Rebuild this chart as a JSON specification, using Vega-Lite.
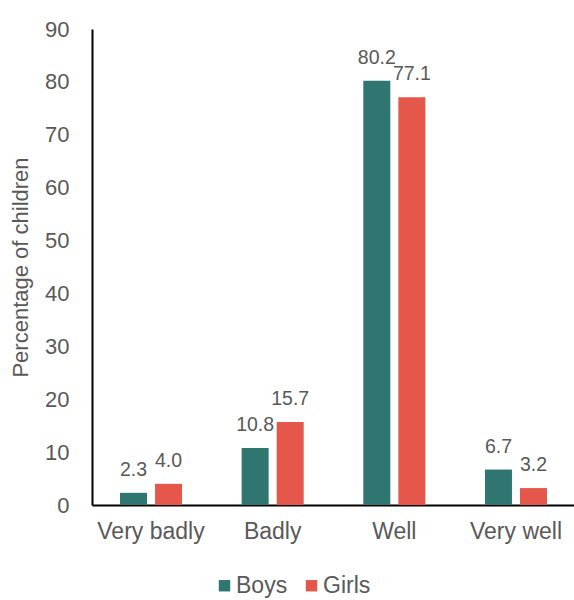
{
  "$schema": "https://vega.github.io/schema/vega-lite/v6.json",
  "width": 483,
  "height": 476,
  "autosize": {"type": "none"},
  "padding": {"left": 92, "top": 29, "right": 0, "bottom": 95},
  "config": {"view": {"stroke": null}, "font": "Liberation Sans"},
  "data": {
    "values": [
      {"rating": "Very badly", "sex": "Boys", "pct": 2.3},
      {"rating": "Very badly", "sex": "Girls", "pct": 4.0},
      {"rating": "Badly", "sex": "Boys", "pct": 10.8},
      {"rating": "Badly", "sex": "Girls", "pct": 15.7},
      {"rating": "Well", "sex": "Boys", "pct": 80.2},
      {"rating": "Well", "sex": "Girls", "pct": 77.1},
      {"rating": "Very well", "sex": "Boys", "pct": 6.7},
      {"rating": "Very well", "sex": "Girls", "pct": 3.2}
    ]
  },
  "encoding": {
    "x": {
      "field": "rating", "type": "nominal",
      "sort": ["Very badly", "Badly", "Well", "Very well"],
      "scale": {"paddingInner": 0.49, "paddingOuter": 0.23},
      "axis": {"title": null, "labelAngle": 0, "ticks": false, "domainColor": "#000000", "domainWidth": 2, "labelFontSize": 23, "labelColor": "#595959", "labelPadding": 15}
    },
    "xOffset": {"field": "sex", "type": "nominal", "scale": {"paddingInner": 0.23, "paddingOuter": 0}},
    "y": {
      "field": "pct", "type": "quantitative",
      "scale": {"domain": [0, 90]},
      "axis": {"title": "Percentage of children", "titleFontSize": 22, "titleFontWeight": "normal", "titleColor": "#595959", "titlePadding": 12, "values": [0, 10, 20, 30, 40, 50, 60, 70, 80, 90], "labelOverlap": false, "grid": false, "ticks": false, "domainColor": "#000000", "domainWidth": 2, "labelFontSize": 22, "labelColor": "#595959", "labelPadding": 23}
    }
  },
  "layer": [
    {
      "mark": {"type": "bar"},
      "encoding": {
        "color": {
          "field": "sex", "type": "nominal",
          "scale": {"domain": ["Boys", "Girls"], "range": ["#2E766F", "#E5574A"]},
          "legend": {"title": null, "orient": "none", "direction": "horizontal", "legendX": 121, "legendY": 545, "symbolType": "square", "symbolSize": 130, "symbolStrokeWidth": 0, "labelFontSize": 23, "labelColor": "#595959", "columnPadding": 12, "labelOffset": 0}
        }
      }
    },
    {
      "mark": {"type": "text", "baseline": "alphabetic", "dy": -17, "fontSize": 19.5, "color": "#595959"},
      "encoding": {
        "text": {"field": "pct", "type": "quantitative", "format": ".1f"}
      }
    }
  ]
}
